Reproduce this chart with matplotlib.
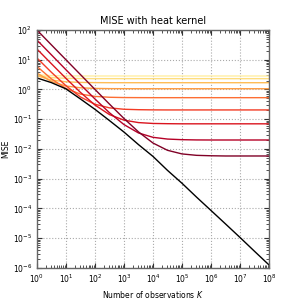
import matplotlib
matplotlib.use("Agg")
import matplotlib.pyplot as plt
import matplotlib.ticker as mticker
import numpy as np

# number of observations, half-decade steps 10^0 ... 10^8
K = [1, 3.162, 10, 31.62, 100, 316.2, 1e3, 3162, 1e4, 31620, 1e5, 316200,
     1e6, 3162000, 1e7, 31620000, 1e8]

# fixed-bandwidth curves, palest (widest kernel) first
mise_h1 = [3.14, 2.93, 2.87, 2.85, 2.84, 2.84, 2.84, 2.84, 2.84, 2.84, 2.84,
           2.84, 2.84, 2.84, 2.84, 2.84, 2.84]
mise_h2 = [2.91, 2.50, 2.37, 2.33, 2.31, 2.31, 2.31, 2.31, 2.31, 2.31, 2.31,
           2.31, 2.31, 2.31, 2.31, 2.31, 2.31]
mise_h3 = [2.89, 2.07, 1.81, 1.73, 1.70, 1.69, 1.69, 1.69, 1.69, 1.69, 1.69,
           1.69, 1.69, 1.69, 1.69, 1.69, 1.69]
mise_h4 = [3.56, 1.85, 1.31, 1.14, 1.085, 1.068, 1.062, 1.06, 1.06, 1.06,
           1.06, 1.06, 1.06, 1.06, 1.06, 1.06, 1.06]
mise_h5 = [6.0, 2.27, 1.08, 0.70, 0.585, 0.547, 0.535, 0.532, 0.53, 0.53,
           0.53, 0.53, 0.53, 0.53, 0.53, 0.53, 0.53]
mise_h6 = [11.5, 3.78, 1.34, 0.56, 0.318, 0.241, 0.216, 0.209, 0.206, 0.205,
           0.205, 0.205, 0.205, 0.205, 0.205, 0.205, 0.205]
mise_h7 = [23, 7.34, 2.37, 0.80, 0.30, 0.143, 0.093, 0.077, 0.072, 0.0707,
           0.070, 0.070, 0.070, 0.070, 0.070, 0.070, 0.070]
mise_h8 = [46, 14.6, 4.62, 1.47, 0.48, 0.165, 0.066, 0.0345, 0.0246, 0.0215,
           0.0205, 0.0201, 0.020, 0.020, 0.020, 0.020, 0.020]
mise_h9 = [100, 31.6, 10.0, 3.17, 1.006, 0.322, 0.106, 0.0374, 0.0158, 0.0090,
           0.0068, 0.0061, 0.0059, 0.0058, 0.0058, 0.0058, 0.0058]
curves = [mise_h1, mise_h2, mise_h3, mise_h4, mise_h5, mise_h6, mise_h7,
          mise_h8, mise_h9]

# optimal bandwidth
mise_opt = [2.44, 1.7, 1.05, 0.48, 0.215, 0.09, 0.037, 0.014, 5.6e-3, 1.9e-3,
            7e-4, 2.4e-4, 8.5e-5, 3e-5, 1.05e-5, 3.6e-6, 1.25e-6]

colors = plt.cm.YlOrRd(np.linspace(0.12, 1.0, len(curves)))

fig = plt.figure(figsize=(3, 3), dpi=100)
ax = fig.add_axes([0.123, 0.107, 0.774, 0.793])

for c, col in zip(curves, colors):
    ax.plot(K, c, color=col, lw=1.0)
ax.plot(K, mise_opt, color='black', lw=1.0)

ax.set_xscale('log')
ax.set_yscale('log')
ax.set_xlim(1, 1e8)
ax.set_ylim(1e-6, 1e2)
ax.set_xticks([10.0**i for i in range(9)])
ax.set_yticks([10.0**i for i in range(-6, 3)])
minor = mticker.LogLocator(base=10, subs=np.arange(2, 10), numticks=50)
ax.xaxis.set_minor_locator(minor)
ax.yaxis.set_minor_locator(mticker.LogLocator(base=10, subs=np.arange(2, 10), numticks=50))
ax.xaxis.set_minor_formatter(mticker.NullFormatter())
ax.yaxis.set_minor_formatter(mticker.NullFormatter())
ax.grid(True, which='major', ls=':', color='#aaaaaa', lw=0.8)
ax.tick_params(which='both', direction='in', top=True, right=True,
               labelsize=5.5, color='#333333')
ax.tick_params(which='major', length=3.5)
ax.tick_params(which='minor', length=2)
for s in ax.spines.values():
    s.set_color('#666666')
    s.set_linewidth(1.0)

ax.set_title('MISE with heat kernel', fontsize=7, pad=4)
ax.set_xlabel('Number of observations $K$', fontsize=5.5, labelpad=3)
ax.set_ylabel('MISE', fontsize=5.5, labelpad=2)

fig.savefig('out.png', dpi=100)
